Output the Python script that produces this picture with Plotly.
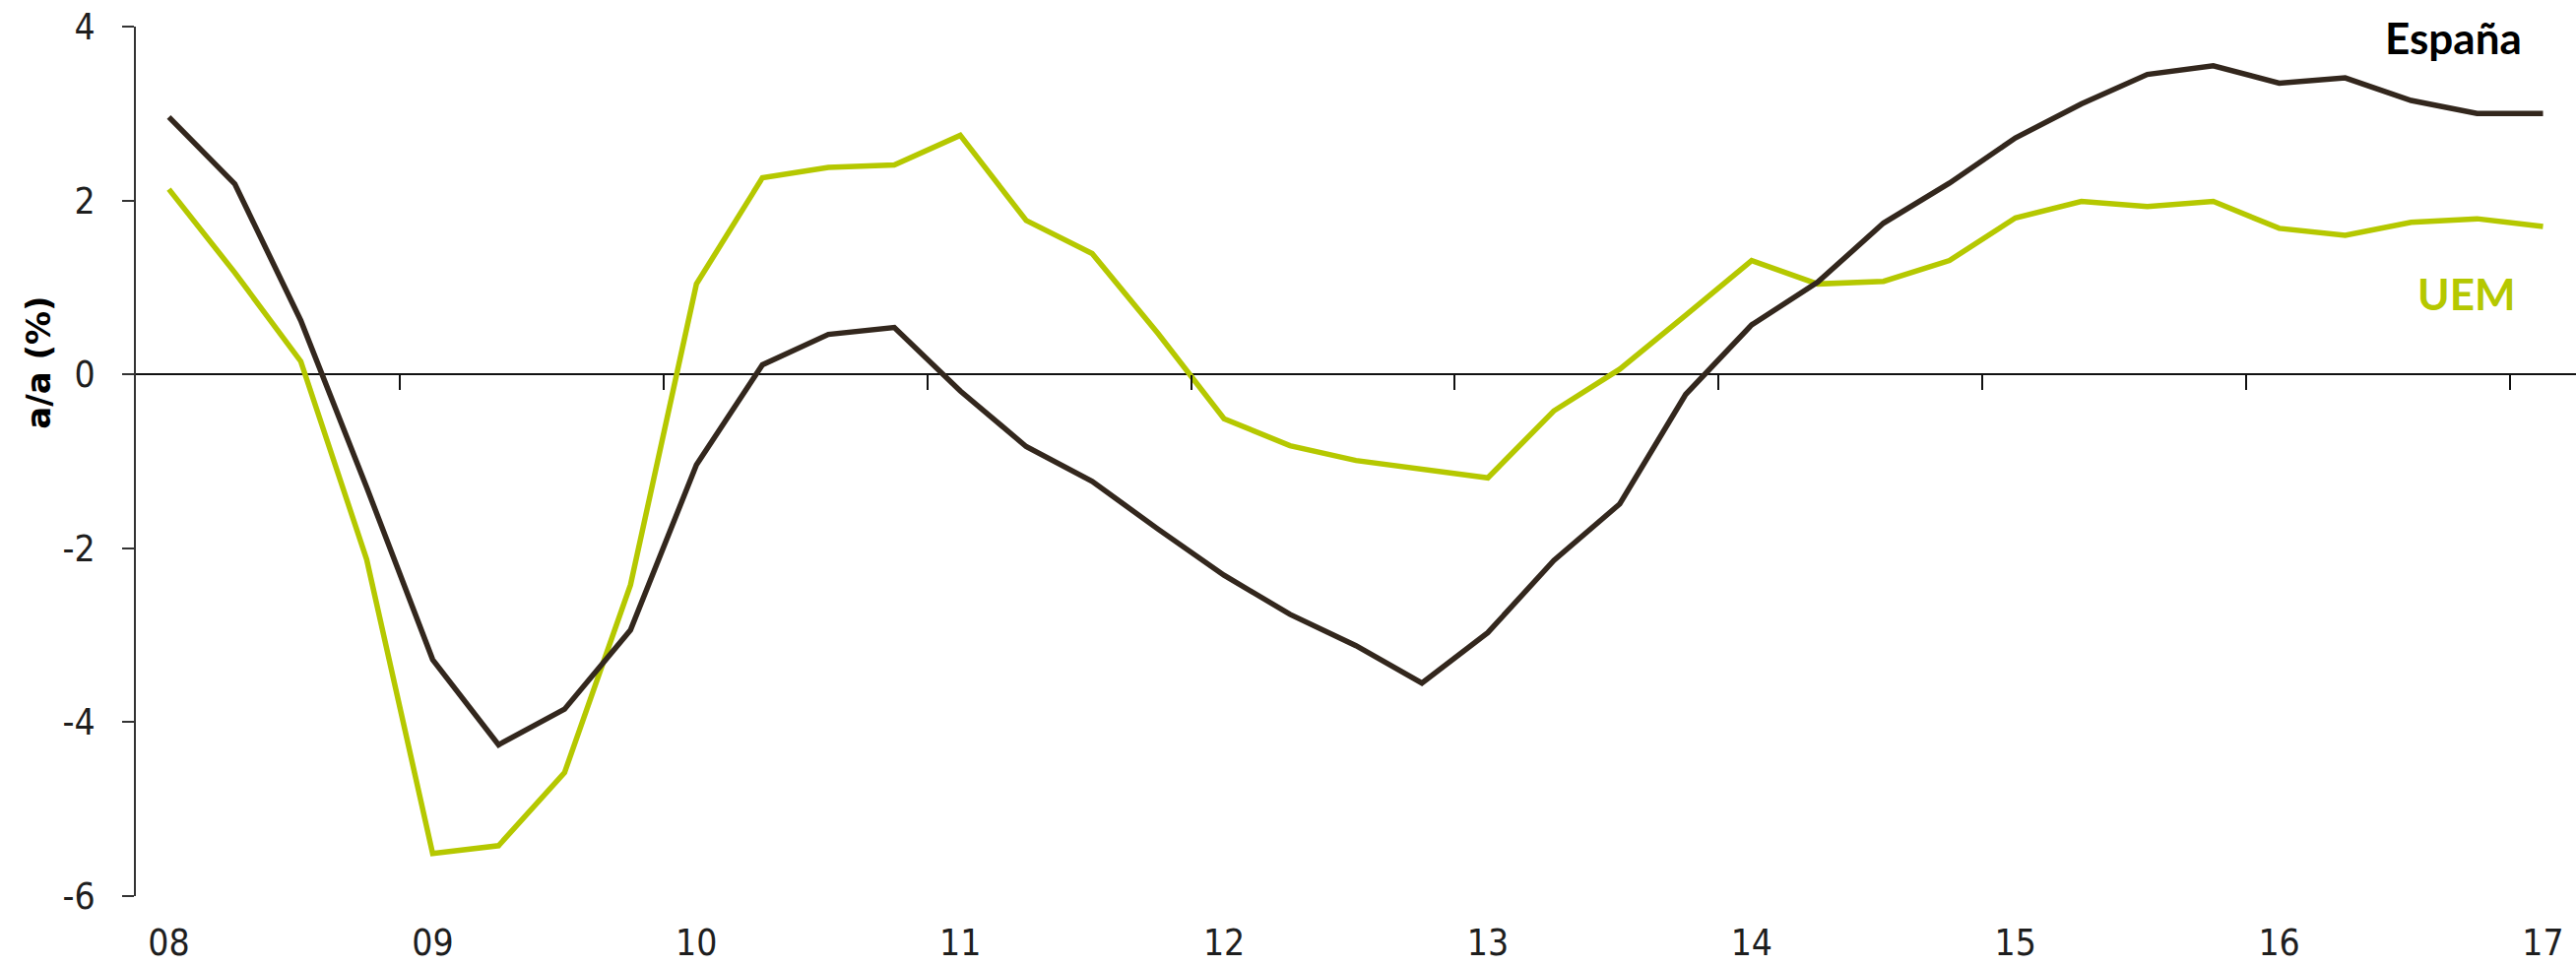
import plotly.graph_objects as go

# Quarterly series, 2008 Q1 to 2017 Q1 (year-on-year %, a/a)
years = ["08", "09", "10", "11", "12", "13", "14", "15", "16", "17"]
espana = [2.96, 2.19, 0.62, -1.30, -3.28, -4.26, -3.85, -2.94,
          -1.04, 0.11, 0.46, 0.54, -0.19, -0.83, -1.23, -1.78,
          -2.31, -2.76, -3.12, -3.55, -2.97, -2.14, -1.49, -0.23,
          0.57, 1.06, 1.74, 2.20, 2.72, 3.11, 3.45, 3.55,
          3.35, 3.41, 3.15, 3.00, 3.00]
uem = [2.13, 1.17, 0.15, -2.13, -5.51, -5.42, -4.58, -2.42,
       1.04, 2.26, 2.38, 2.41, 2.75, 1.77, 1.39, 0.47,
       -0.51, -0.82, -0.99, -1.09, -1.19, -0.42, 0.06, 0.68,
       1.31, 1.04, 1.07, 1.31, 1.80, 1.99, 1.93, 1.99,
       1.68, 1.60, 1.75, 1.79, 1.70]
y_ticks = [-6, -4, -2, 0, 2, 4]
y_labels = ["-6", "-4", "-2", "0", "2", "4"]

quarters = list(range(len(espana)))
year_pos = quarters[::4]                      # label on each Q1
year_bounds = [q - 0.5 for q in year_pos[1:]]  # tick between Q4 and Q1

C_ES = "#33271d"
C_UEM = "#b5c800"
NARROW = "DejaVu Sans Condensed, Liberation Sans Narrow, Liberation Sans, sans-serif"
LABEL = "Lato, Roboto, sans-serif"

fig = go.Figure()
fig.add_trace(go.Scatter(x=quarters, y=uem, mode="lines", name="UEM",
                         line=dict(color=C_UEM, width=5.5), showlegend=False))
fig.add_trace(go.Scatter(x=quarters, y=espana, mode="lines", name="España",
                         line=dict(color=C_ES, width=5.5), showlegend=False))
# carrier for the secondary axis that holds the year-boundary ticks
fig.add_trace(go.Scatter(x=[], y=[], xaxis="x2", yaxis="y", showlegend=False,
                         hoverinfo="skip"))

x_range = [-0.5, len(quarters) - 0.5]

fig.update_layout(
    width=2616, height=981,
    margin=dict(l=138, r=0, t=27, b=71),
    paper_bgcolor="white", plot_bgcolor="white",
    xaxis=dict(range=x_range, tickvals=year_pos, ticktext=years,
               ticks="", showline=False, showgrid=False, zeroline=False,
               tickfont=dict(family=NARROW, size=37, color="#1e1e1e"),
               ticklabelstandoff=22),
    xaxis2=dict(range=x_range, overlaying="x", anchor="free",
                position=(0 - y_ticks[0]) / (y_ticks[-1] - y_ticks[0]),
                side="bottom", tickvals=year_bounds, showticklabels=False,
                ticks="outside", ticklen=15, tickwidth=2, tickcolor="#111",
                showline=False, showgrid=False, zeroline=False),
    yaxis=dict(range=[y_ticks[0], y_ticks[-1]], tickvals=y_ticks,
               ticktext=y_labels,
               ticks="outside", ticklen=12, tickwidth=2, tickcolor="#333",
               showline=True, linecolor="#333", linewidth=2,
               showgrid=False, zeroline=True, zerolinecolor="#111",
               zerolinewidth=2,
               tickfont=dict(family=NARROW, size=37, color="#1e1e1e"),
               ticklabelstandoff=20),
    annotations=[
        dict(text="España", xref="paper", x=0.9786, xanchor="right",
             yref="y", y=3.88, yanchor="middle", showarrow=False,
             font=dict(family=LABEL, size=44, color="#000000", weight="bold")),
        dict(text="UEM", xref="paper", x=0.9762, xanchor="right",
             yref="y", y=0.93, yanchor="middle", showarrow=False,
             font=dict(family=LABEL, size=44, color=C_UEM, weight="bold")),
        dict(text="a/a (%)", textangle=-90, xref="paper", x=-0.04,
             xanchor="center", yref="y", y=0.14, yanchor="middle",
             showarrow=False,
             font=dict(family="DejaVu Sans, sans-serif", size=34,
                       color="#000000", weight="bold")),
    ],
)

fig.write_html("out.html")
